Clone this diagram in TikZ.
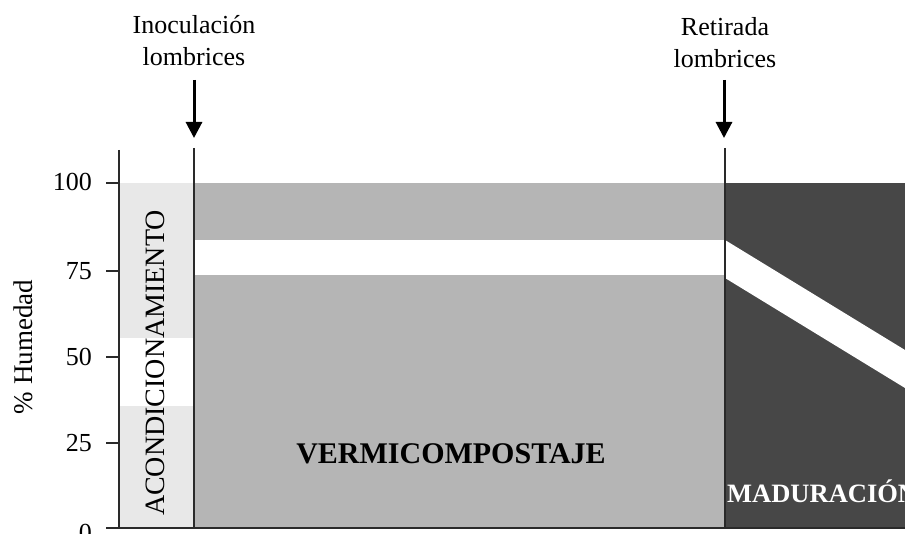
\documentclass[tikz,border=0pt]{standalone}
\usepackage{fontspec}
\setmainfont{Liberation Serif}
\usetikzlibrary{arrows.meta}
\definecolor{lightfill}{HTML}{E8E8E8}
\definecolor{midfill}{HTML}{B5B5B5}
\definecolor{darkfill}{HTML}{474747}
\definecolor{linecol}{HTML}{2A2A2A}
\tikzset{
  axisline/.style={draw=linecol, line width=1.8pt},
  ticklabel/.style={anchor=east, inner sep=0pt, font=\fontsize{26}{31}\selectfont},
  toplabel/.style={anchor=north, inner sep=0pt, align=center, font=\fontsize{26}{32}\selectfont},
  eventarrow/.style={line width=3pt, -{Triangle[width=16pt,length=16pt]}},
  phaselabel/.style={inner sep=0pt, font=\fontsize{28}{30}\selectfont},
  boldlabel/.style={inner sep=0pt, font=\fontsize{30}{32}\selectfont\bfseries},
  whitelabel/.style={inner sep=0pt, text=white, font=\fontsize{26.5}{30}\selectfont\bfseries}
}
\begin{document}
\begin{tikzpicture}[x=1pt,y=-1pt]
\useasboundingbox (0,0) rectangle (905,534);
% fills
\fill[lightfill] (120,183) rectangle (194,338);
\fill[lightfill] (120,406) rectangle (194,528);
\fill[midfill] (194,183) rectangle (725,240);
\fill[midfill] (194,275) rectangle (725,528);
\fill[darkfill] (725,183) rectangle (905,528);
\fill[white] (725,240) -- (905,350) -- (905,388) -- (725,278) -- cycle;
% axes and phase lines
\coordinate (ytop) at (119,150);
\coordinate (ybot) at (119,529);
\coordinate (xleft) at (106,528);
\coordinate (xright) at (905,528);
\coordinate (l1top) at (194,148);
\coordinate (l1bot) at (194,528);
\coordinate (l2top) at (725,148);
\coordinate (l2bot) at (725,528);
\draw[axisline] (ytop) -- (ybot);
\draw[axisline] (xleft) -- (xright);
\draw[axisline] (l1top) -- (l1bot);
\draw[axisline, line width=1.3pt] (l2top) -- (l2bot);
% ticks
\foreach \yy in {183, 271, 357, 443, 528}{
  \draw[axisline] (106,\yy) -- (119,\yy);
}
\node[ticklabel] (t100) at (92,182) {100};
\node[ticklabel] (t75) at (92,271) {75};
\node[ticklabel] (t50) at (92,357) {50};
\node[ticklabel] (t25) at (92,443) {25};
\node[ticklabel] (t0) at (92,533) {0};
\node[rotate=90, inner sep=0pt, font=\fontsize{27}{30}\selectfont] (ylab) at (23,347) {\% Humedad};
% phase labels
\node[phaselabel, rotate=90] (acond) at (155,363) {ACONDICIONAMIENTO};
\node[boldlabel, anchor=base] (vermi) at (451,464) {VERMICOMPOSTAJE};
\node[whitelabel, anchor=base west] (madur) at (727,502) {MADURACIÓN};
% top labels and arrows
\node[toplabel] (inoc) at (194,15) {Inoculación\\lombrices};
\node[toplabel] (retir) at (725,17) {Retirada\\lombrices};
\coordinate (a1s) at (194,80);
\coordinate (a1e) at (194,138);
\coordinate (a2s) at (724,80);
\coordinate (a2e) at (724,138);
\draw[eventarrow] (a1s) -- (a1e);
\draw[eventarrow] (a2s) -- (a2e);
\end{tikzpicture}
\end{document}
